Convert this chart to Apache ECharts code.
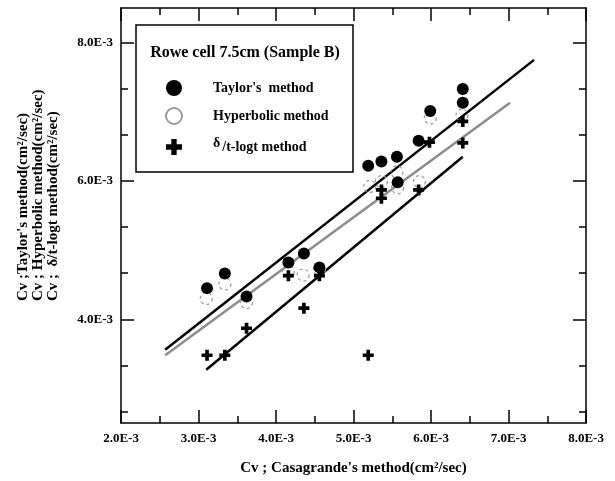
<!DOCTYPE html>
<html><head><meta charset="utf-8">
<script src="https://cdn.jsdelivr.net/npm/echarts@6/dist/echarts.min.js"></script>
<style>html,body{margin:0;padding:0;background:#fff}#c{width:615px;height:481px}</style>
</head><body><div id="c"></div>
<script>
// values in units of 1E-3 cm²/sec
var taylorX = [3.11, 3.34, 3.62, 4.16, 4.36, 4.56, 5.19, 5.36, 5.56, 5.57, 5.84, 5.99, 6.41, 6.41];
var taylorY = [4.45, 4.66, 4.33, 4.82, 4.95, 4.75, 6.22, 6.28, 6.35, 5.98, 6.58, 7.01, 7.33, 7.13];
var hyperX = [3.10, 3.34, 3.62, 4.16, 4.35, 4.56, 5.21, 5.36, 5.56, 5.57, 5.85, 5.99, 6.40];
var hyperY = [4.30, 4.51, 4.24, 4.69, 4.64, 4.72, 5.92, 5.99, 6.13, 5.90, 5.99, 6.91, 6.95];
var plusX = [3.11, 3.34, 3.62, 4.16, 4.36, 4.56, 5.19, 5.36, 5.36, 5.84, 5.98, 6.41, 6.41];
var plusY = [3.48, 3.48, 3.87, 4.63, 4.16, 4.63, 3.48, 5.87, 5.75, 5.87, 6.56, 6.86, 6.55];
var taylorFitX = [2.57, 7.33], taylorFitY = [3.56, 7.75];
var hyperFitX = [2.57, 7.02], hyperFitY = [3.48, 7.13];
var plusFitX = [3.10, 6.41], plusFitY = [3.27, 6.35];
var yMajorTicks = [4, 6, 8];
var yMinorTicks = [8/3, 10/3, 14/3, 16/3, 20/3, 22/3];
var seriesNames = ["Taylor's  method", "Hyperbolic method", "δ/t-logt method"];
var yNameLines = ["Cv ;Taylor's method(cm²/sec)", "Cv ; Hyperbolic method(cm²/sec)", "Cv ;  δ/t-logt method(cm²/sec)"];
var xName = "Cv ; Casagrande's method(cm²/sec)";
var boxTitle = "Rowe cell 7.5cm (Sample B)";

function pts(xs, ys){ return xs.map(function(x,i){ return [x, ys[i]]; }); }
var FONT = "'Liberation Serif','Times New Roman',serif";
var fmt = function(v){ return v.toFixed(1) + 'E-3'; };
var lineStyleAx = {color:'#000', width:1.5};
var lblStyle = {color:'#000', fontFamily:FONT, fontWeight:'bold', fontSize:13};
var plusPath = 'path://M4,0H8V4H12V8H8V12H4V8H0V4H4Z';

var chart = echarts.init(document.getElementById('c'));
chart.setOption({
  animation:false,
  grid:{left:121, right:29, top:8, bottom:58},
  xAxis:[
    {type:'value', min:2, max:8, interval:1, position:'bottom',
     axisLine:{lineStyle:lineStyleAx}, axisTick:{inside:true, length:13, lineStyle:lineStyleAx},
     minorTick:{show:true, splitNumber:2, length:7, lineStyle:lineStyleAx},
     axisLabel:Object.assign({formatter:fmt, margin:9}, lblStyle), splitLine:{show:false},
     name:xName, nameLocation:'middle', nameGap:38,
     nameTextStyle:{color:'#000', fontFamily:FONT, fontWeight:'bold', fontSize:15}},
    {type:'value', min:2, max:8, interval:1, position:'top',
     axisLine:{lineStyle:lineStyleAx}, axisTick:{inside:true, length:13, lineStyle:lineStyleAx},
     minorTick:{show:true, splitNumber:2, length:7, lineStyle:lineStyleAx},
     axisLabel:{show:false}, splitLine:{show:false}}
  ],
  yAxis:[
    {type:'value', min:2.5, max:8.5, position:'left',
     axisLine:{lineStyle:lineStyleAx},
     axisTick:{inside:true, length:13, customValues:yMajorTicks, lineStyle:lineStyleAx},
     axisLabel:Object.assign({formatter:fmt, margin:8, customValues:yMajorTicks}, lblStyle),
     splitLine:{show:false}},
    {type:'value', min:2.5, max:8.5, position:'right',
     axisLine:{lineStyle:lineStyleAx},
     axisTick:{inside:true, length:13, customValues:yMajorTicks, lineStyle:lineStyleAx},
     axisLabel:{show:false}, splitLine:{show:false}},
    {type:'value', min:2.5, max:8.5, position:'left', axisLine:{show:false},
     axisTick:{inside:true, length:7, customValues:yMinorTicks, lineStyle:lineStyleAx},
     axisLabel:{show:false}, splitLine:{show:false}},
    {type:'value', min:2.5, max:8.5, position:'right', axisLine:{show:false},
     axisTick:{inside:true, length:7, customValues:yMinorTicks, lineStyle:lineStyleAx},
     axisLabel:{show:false}, splitLine:{show:false}}
  ],
  legend:{
    orient:'vertical', left:165, top:80, padding:0, itemWidth:16, itemHeight:16, itemGap:11, z:20,
    data:seriesNames,
    textStyle:{color:'#000', fontFamily:FONT, fontWeight:'bold', fontSize:14, padding:[0,0,0,26],
      rich:{s:{fontFamily:FONT, fontSize:14, color:'#000', padding:[0,2,8,0]},
            t:{fontFamily:FONT, fontWeight:'bold', fontSize:14, color:'#000'}}},
    formatter:function(n){ if(n.charAt(0)==='δ'){ return '{s|δ}{t|' + n.slice(1) + '}'; } return n; }
  },
  graphic:[
    {type:'rect', shape:{x:136, y:25, width:217, height:147}, style:{fill:'#fff', stroke:'#000', lineWidth:1.5}, z:10},
    {type:'text', x:245, y:53, z:11, style:{text:boxTitle, font:'bold 16px '+FONT, fill:'#000', align:'center', verticalAlign:'middle'}},
    {type:'text', x:23, y:301, rotation:Math.PI/2, style:{text:yNameLines[0], font:'bold 15px '+FONT, fill:'#000', align:'left', verticalAlign:'middle'}},
    {type:'text', x:38, y:301, rotation:Math.PI/2, style:{text:yNameLines[1], font:'bold 15px '+FONT, fill:'#000', align:'left', verticalAlign:'middle'}},
    {type:'text', x:53, y:301, rotation:Math.PI/2, style:{text:yNameLines[2], font:'bold 15px '+FONT, fill:'#000', align:'left', verticalAlign:'middle'}}
  ],
  series:[
    {type:'line', name:'fitT', data:pts(taylorFitX, taylorFitY), symbol:'none', lineStyle:{color:'#000', width:2.5}, z:2},
    {type:'line', name:'fitH', data:pts(hyperFitX, hyperFitY), symbol:'none', lineStyle:{color:'#8c8c8c', width:2.5}, z:2},
    {type:'line', name:'fitP', data:pts(plusFitX, plusFitY), symbol:'none', lineStyle:{color:'#000', width:2.5}, z:2},
    {type:'scatter', name:seriesNames[1], data:pts(hyperX, hyperY), symbol:'circle', symbolSize:12,
     itemStyle:{color:'rgba(255,255,255,0)', borderColor:'#9a9a9a', borderWidth:1.2, borderType:[3,3], opacity:1}, z:3},
    {type:'scatter', name:seriesNames[2], data:pts(plusX, plusY), symbol:plusPath, symbolSize:11,
     itemStyle:{color:'#000', opacity:1}, z:4},
    {type:'scatter', name:seriesNames[0], data:pts(taylorX, taylorY), symbol:'circle', symbolSize:12,
     itemStyle:{color:'#000', opacity:1}, z:5}
  ]
});
</script></body></html>
